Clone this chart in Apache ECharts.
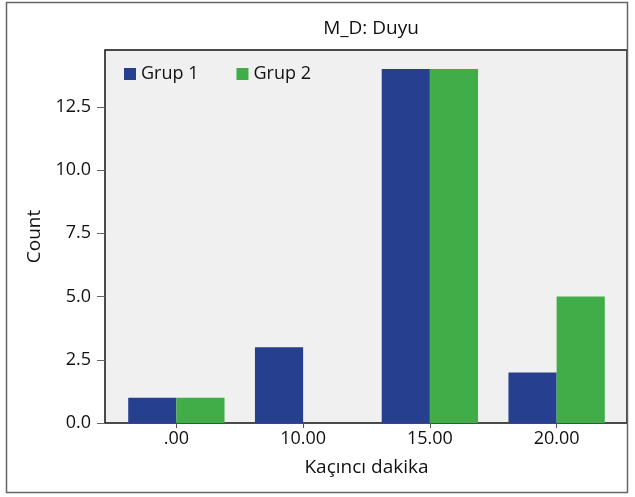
<!DOCTYPE html>
<html>
<head>
<meta charset="utf-8">
<script src="https://cdn.jsdelivr.net/npm/echarts@6/dist/echarts.min.js"></script>
<style>
  html, body { margin: 0; padding: 0; background: #fff; }
  #chart { width: 635px; height: 497px; }
</style>
</head>
<body>
<div id="chart"></div>
<script>
// data
const categories = ['.00', '10.00', '15.00', '20.00']
const grup1 = [1, 3, 14, 2]
const grup2 = [1, 0, 14, 5]
const yTicks = [0, 2.5, 5, 7.5, 10, 12.5]

const blue = '#263f8e'
const green = '#41ad49'
const font = '"Open Sans", "Noto Sans", sans-serif'

const myChart = echarts.init(document.getElementById('chart'))
myChart.setOption({
  animation: false,
  textStyle: { fontFamily: font },
  title: {
    text: 'M_D: Duyu',
    left: 366,
    textAlign: 'center',
    top: 14,
    textStyle: { fontSize: 19, fontWeight: 'normal', color: '#111', fontFamily: font }
  },
  legend: {
    left: 119,
    top: 60,
    itemWidth: 12,
    itemHeight: 12,
    itemGap: 38,
    icon: 'rect',
    textStyle: { fontSize: 18, color: '#111', fontFamily: font },
    data: ['Grup 1', 'Grup 2']
  },
  graphic: [{
    type: 'rect',
    shape: { x: 6.5, y: 2.5, width: 621, height: 490 },
    style: { fill: 'none', stroke: '#666', lineWidth: 1.5 },
    z: 0
  }],
  grid: [
    // background box of the plot
    { left: 105, right: 8, top: 50, bottom: 74, show: true, backgroundColor: '#f0f0f0', borderColor: '#111', borderWidth: 1.5 },
    // data grid, narrower so the outer bands get extra padding
    { left: 113, right: 15, top: 50, bottom: 74 }
  ],
  xAxis: [
    { gridIndex: 0, type: 'value', show: false },
    {
      gridIndex: 1,
      type: 'category',
      data: categories,
      name: 'Kaçıncı dakika',
      nameLocation: 'middle',
      nameGap: 35,
      nameTextStyle: { fontSize: 19, color: '#111', fontFamily: font },
      axisLine: { show: false },
      axisTick: { show: true, alignWithLabel: true, length: 5, lineStyle: { color: '#555' } },
      axisLabel: { fontSize: 18, color: '#111', margin: 7, fontFamily: font }
    }
  ],
  yAxis: [
    { gridIndex: 0, type: 'value', show: false },
    {
      gridIndex: 1,
      type: 'value',
      min: 0,
      max: 14.75,
      interval: 2.5,
      offset: 8,
      name: 'Count',
      nameLocation: 'middle',
      nameGap: 61,
      nameTextStyle: { fontSize: 19, color: '#111', fontFamily: font },
      axisLine: { show: false },
      axisTick: { show: true, length: 8, lineStyle: { color: '#666' } },
      splitLine: { show: false },
      axisLabel: {
        fontSize: 18,
        color: '#111',
        margin: 14,
        fontFamily: font,
        showMaxLabel: false,
        formatter: function (v) {
          return yTicks.indexOf(v) >= 0 ? v.toFixed(1) : ''
        }
      }
    }
  ],
  series: [{
    name: 'Grup 1',
    type: 'bar',
    xAxisIndex: 1,
    yAxisIndex: 1,
    data: grup1,
    barGap: '0%',
    barCategoryGap: '24%',
    itemStyle: { color: blue }
  }, {
    name: 'Grup 2',
    type: 'bar',
    xAxisIndex: 1,
    yAxisIndex: 1,
    data: grup2,
    barGap: '0%',
    barCategoryGap: '24%',
    itemStyle: { color: green }
  }]
})
</script>
</body>
</html>
